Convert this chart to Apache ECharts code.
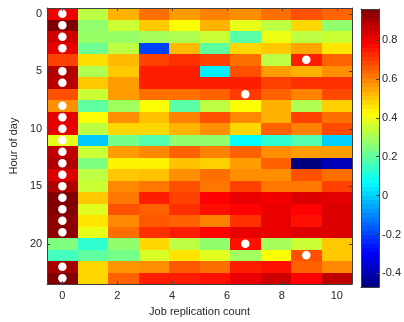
<!DOCTYPE html>
<html><head><meta charset="utf-8">
<script src="https://cdn.jsdelivr.net/npm/echarts@6/dist/echarts.min.js"></script>
<style>html,body{margin:0;padding:0;background:#fff}#c{width:404px;height:322px}</style>
</head><body><div id="c"></div>
<script>
// ---- data ----
const hours = ['0','1','2','3','4','5','6','7','8','9','10','11','12','13','14','15','16','17','18','19','20','21','22','23'];
const xExtent = [0, 10];            // imagesc-style x extent of the 10 columns
const xTicks = [0, 2, 4, 6, 8, 10];
const cbTicks = [-0.4, -0.2, 0, 0.2, 0.4, 0.6, 0.8];
const clim = [-0.47, 0.96];
// one row per hour, 10 columns each
const cellValues = [
  [0.80, 0.33, 0.53, 0.625, 0.56, 0.60, 0.58, 0.625, 0.67, 0.64],
  [0.96, 0.27, 0.35, 0.50, 0.42, 0.53, 0.39, 0.33, 0.48, 0.27],
  [0.85, 0.28, 0.28, 0.30, 0.31, 0.35, 0.19, 0.40, 0.33, 0.35],
  [0.81, 0.22, 0.33, -0.20, 0.52, 0.20, 0.48, 0.50, 0.55, 0.46],
  [0.69, 0.47, 0.52, 0.69, 0.715, 0.69, 0.625, 0.33, 0.74, 0.64],
  [0.89, 0.31, 0.50, 0.74, 0.74, 0.045, 0.67, 0.56, 0.53, 0.58],
  [0.88, 0.50, 0.56, 0.74, 0.74, 0.74, 0.74, 0.69, 0.715, 0.715],
  [0.67, 0.35, 0.56, 0.625, 0.625, 0.645, 0.70, 0.645, 0.60, 0.68],
  [0.58, 0.20, 0.29, 0.42, 0.19, 0.33, 0.42, 0.53, 0.31, 0.49],
  [0.82, 0.42, 0.58, 0.51, 0.60, 0.67, 0.59, 0.53, 0.69, 0.625],
  [0.81, 0.33, 0.48, 0.48, 0.53, 0.58, 0.48, 0.645, 0.60, 0.68],
  [0.39, -0.01, 0.23, 0.18, 0.27, 0.27, 0.066, 0.13, 0.18, 0.0],
  [0.87, 0.35, 0.56, 0.59, 0.645, 0.60, 0.645, 0.58, 0.56, 0.56],
  [0.89, 0.245, 0.44, 0.44, 0.51, 0.49, 0.56, 0.645, -0.47, -0.39],
  [0.83, 0.33, 0.50, 0.51, 0.58, 0.625, 0.58, 0.58, 0.67, 0.625],
  [0.89, 0.35, 0.59, 0.615, 0.67, 0.615, 0.69, 0.615, 0.615, 0.69],
  [0.955, 0.50, 0.615, 0.74, 0.69, 0.78, 0.81, 0.80, 0.83, 0.82],
  [0.955, 0.38, 0.67, 0.645, 0.715, 0.76, 0.78, 0.81, 0.78, 0.83],
  [0.94, 0.46, 0.59, 0.66, 0.645, 0.60, 0.715, 0.81, 0.76, 0.83],
  [0.94, 0.39, 0.625, 0.715, 0.74, 0.78, 0.81, 0.81, 0.83, 0.83],
  [0.245, 0.13, 0.27, 0.48, 0.33, 0.27, 0.76, 0.30, 0.35, 0.50],
  [0.156, 0.20, 0.23, 0.37, 0.46, 0.38, 0.29, 0.42, 0.67, 0.50],
  [0.91, 0.48, 0.57, 0.58, 0.66, 0.625, 0.74, 0.76, 0.645, 0.59],
  [0.955, 0.48, 0.645, 0.74, 0.74, 0.76, 0.81, 0.85, 0.78, 0.87]
];
// white markers: [column index, hour index]
const dotCells = [[0,0],[0,1],[0,2],[0,3],[8,4],[0,5],[0,6],[6,7],[0,8],[0,9],[0,10],[0,11],
  [0,12],[0,13],[0,14],[0,15],[0,16],[0,17],[0,18],[0,19],[6,20],[8,21],[0,22],[0,23]];
const jet = ['#00007f','#0000ff','#007fff','#00ffff','#7fff7f','#ffff00','#ff7f00','#ff0000','#7f0000'];
const cbLevels = 64;

// ---- build ----
const nCols = cellValues[0].length;
const step = (xExtent[1] - xExtent[0]) / (nCols - 1);
const colX = cellValues[0].map((_, i) => xExtent[0] + i * step);
const heatData = [];
cellValues.forEach((row, r) => row.forEach((v, c) => heatData.push([colX[c], r, v, v])));
const dotData = dotCells.map(d => [colX[d[0]], d[1]]);
const cbData = [];
for (let k = 0; k < cbLevels; k++) {
  const lo = clim[0] + (clim[1] - clim[0]) * k / cbLevels;
  const hi = clim[0] + (clim[1] - clim[0]) * (k + 1) / cbLevels;
  cbData.push([0, lo, hi, (lo + hi) / 2]);
}
const FONT = 'Liberation Sans';
const TXT = '#262626';
const LINE = '#404040';
const lineStyle = {color: LINE, width: 1};
const lbl = {color: TXT, fontFamily: FONT, fontSize: 11};

const chart = echarts.init(document.getElementById('c'), null, {renderer: 'canvas'});
chart.setOption({
  backgroundColor: '#fff',
  animation: false,
  grid: [
    {left: 41, top: 8, width: 311, height: 279},
    {left: 361, top: 9, width: 23, height: 278}
  ],
  visualMap: {
    show: false, type: 'continuous', min: clim[0], max: clim[1],
    seriesIndex: [0, 2], dimension: 3,
    inRange: {color: jet}
  },
  xAxis: [
    {type: 'value', gridIndex: 0, min: xExtent[0] - step / 2, max: xExtent[1] + step / 2, z: 10,
     name: 'Job replication count', nameLocation: 'middle', nameGap: 21,
     nameTextStyle: {color: TXT, fontFamily: FONT, fontSize: 11},
     axisLine: {show: true, onZero: false, lineStyle},
     axisTick: {show: true, inside: true, length: 3, lineStyle, customValues: xTicks},
     axisLabel: Object.assign({margin: 6, customValues: xTicks}, lbl),
     splitLine: {show: false}},
    {type: 'value', gridIndex: 0, position: 'top', min: xExtent[0] - step / 2, max: xExtent[1] + step / 2, z: 10,
     axisLine: {show: true, onZero: false, lineStyle},
     axisTick: {show: true, inside: true, length: 3, lineStyle, customValues: xTicks},
     axisLabel: {show: false}, splitLine: {show: false}},
    {type: 'category', gridIndex: 1, data: ['c'], position: 'bottom', z: 10,
     axisLine: {show: true, onZero: false, lineStyle}, axisTick: {show: false}, axisLabel: {show: false}},
    {type: 'category', gridIndex: 1, data: ['c'], position: 'top', z: 10,
     axisLine: {show: true, onZero: false, lineStyle}, axisTick: {show: false}, axisLabel: {show: false}}
  ],
  yAxis: [
    {type: 'category', gridIndex: 0, data: hours, inverse: true, z: 10,
     name: 'Hour of day', nameLocation: 'middle', nameGap: 22,
     nameTextStyle: {color: TXT, fontFamily: FONT, fontSize: 11},
     axisLine: {show: true, onZero: false, lineStyle},
     axisTick: {show: true, inside: true, length: 3, alignWithLabel: true, interval: 4, lineStyle},
     axisLabel: Object.assign({margin: 5, interval: 4}, lbl), splitLine: {show: false}},
    {type: 'category', gridIndex: 0, data: hours, inverse: true, position: 'right', z: 10,
     axisLine: {show: true, onZero: false, lineStyle},
     axisTick: {show: true, inside: true, length: 3, alignWithLabel: true, interval: 4, lineStyle},
     axisLabel: {show: false}, splitLine: {show: false}},
    {type: 'value', gridIndex: 1, min: clim[0], max: clim[1], position: 'right', z: 10,
     axisLine: {show: true, onZero: false, lineStyle},
     axisTick: {show: true, inside: true, length: 3, lineStyle, customValues: cbTicks},
     axisLabel: Object.assign({margin: 3, customValues: cbTicks}, lbl), splitLine: {show: false}},
    {type: 'value', gridIndex: 1, min: clim[0], max: clim[1], position: 'left', z: 10,
     axisLine: {show: true, onZero: false, lineStyle},
     axisTick: {show: false}, axisLabel: {show: false}, splitLine: {show: false}}
  ],
  series: [
    {type: 'custom', xAxisIndex: 0, yAxisIndex: 0, z: 1,
     data: heatData,
     encode: {x: 0, y: 1},
     renderItem(params, api) {
       const x = api.value(0), y = api.value(1);
       const a = api.coord([x - step / 2, y]);
       const b = api.coord([x + step / 2, y]);
       const h = api.size([step, 1])[1];
       const x0 = Math.round(a[0]), x1 = Math.round(b[0]);
       const y0 = Math.round(a[1] - h / 2), y1 = Math.round(a[1] + h / 2);
       return {type: 'rect', shape: {x: x0, y: y0, width: x1 - x0, height: y1 - y0},
               style: {fill: api.visual('color')}};
     }},
    {type: 'scatter', xAxisIndex: 0, yAxisIndex: 0, z: 3, data: dotData,
     symbol: 'circle', symbolSize: 8.5, itemStyle: {color: '#ffffff', opacity: 1}, silent: true},
    {type: 'custom', xAxisIndex: 2, yAxisIndex: 2, z: 1, data: cbData,
     encode: {x: 0, y: 1},
     renderItem(params, api) {
       const lo = api.coord([0, api.value(1)]);
       const hi = api.coord([0, api.value(2)]);
       const w = api.size([1, 0])[0];
       const y0 = Math.round(hi[1]), y1 = Math.round(lo[1]);
       return {type: 'rect', shape: {x: lo[0] - w / 2, y: y0, width: w, height: y1 - y0},
               style: {fill: api.visual('color')}};
     }}
  ]
});
</script></body></html>
